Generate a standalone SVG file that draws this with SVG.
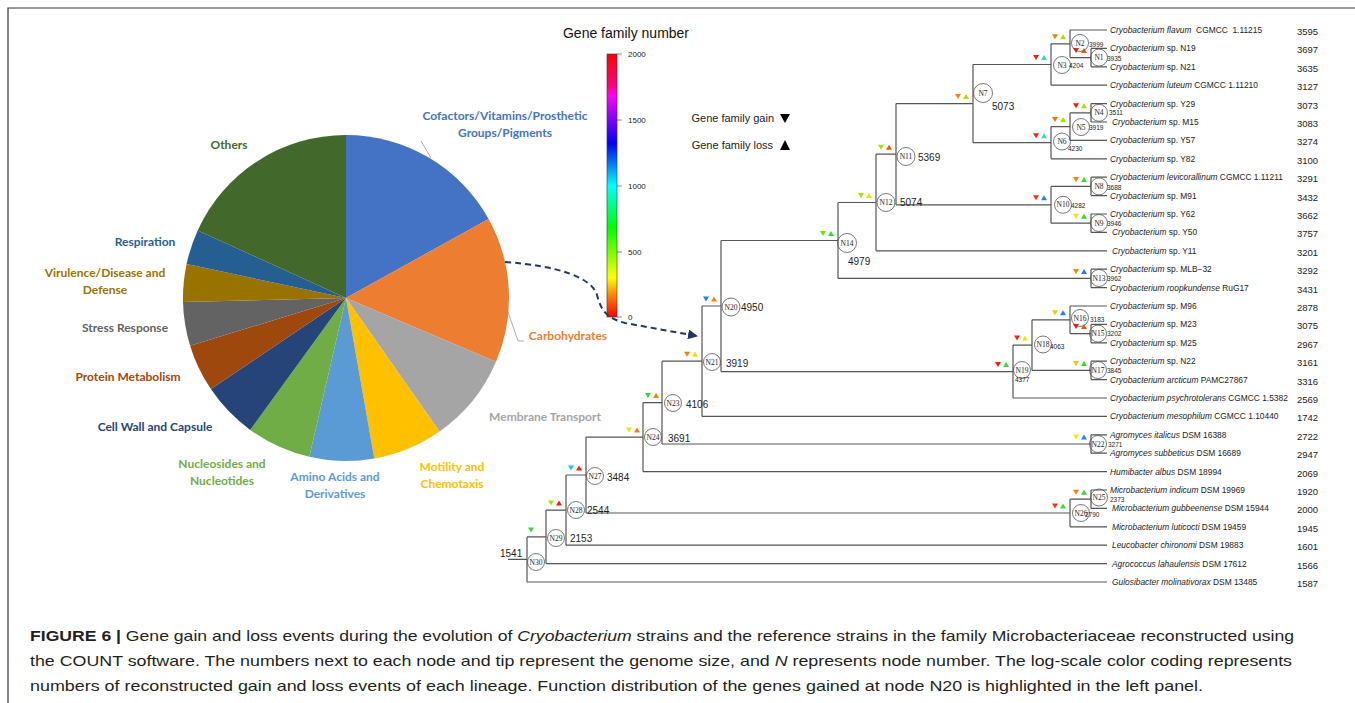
<svg xmlns="http://www.w3.org/2000/svg" xmlns:xlink="http://www.w3.org/1999/xlink" width="1355" height="703" viewBox="0 0 1355 703">
<style>
.br{stroke:#555;stroke-width:1.2;fill:none}
.nc{fill:none;stroke:#555;stroke-width:0.8}
.nl{font-family:"Liberation Serif",serif;font-size:7.5px;text-anchor:middle;fill:#222}
.sz{font-family:"Liberation Sans",Arial,sans-serif;font-size:6.5px;fill:#222}
.bz{font-family:"Liberation Sans",Arial,sans-serif;font-size:10px;fill:#222}
.tip{font-family:"Liberation Sans",Arial,sans-serif;font-size:8.4px;fill:#222}
.tn{font-family:"Liberation Sans",Arial,sans-serif;font-size:9.5px;fill:#222}
.pl{font-family:Lato,"Open Sans",sans-serif;font-weight:bold;font-size:12px;text-anchor:middle}
.cb{font-family:"Liberation Sans",Arial,sans-serif;font-size:8px;fill:#222}
.lg{font-family:"Liberation Sans",Arial,sans-serif;font-size:11px;fill:#222;text-anchor:end}
.cap{font-family:"Liberation Sans",Arial,sans-serif;font-size:15px;fill:#231F20}
.it{font-style:italic}
</style>
<defs>
<path id="td" d="M-3,-2.5 L3,-2.5 L0,2.5 Z"/>
<path id="tu" d="M-3,2.5 L3,2.5 L0,-2.5 Z"/>
<linearGradient id="cg" x1="0" y1="0" x2="0" y2="1">
<stop offset="0" stop-color="#FF0000"/>
<stop offset="0.12" stop-color="#FF0080"/>
<stop offset="0.16" stop-color="#FF00FF"/>
<stop offset="0.25" stop-color="#8000FF"/>
<stop offset="0.34" stop-color="#0000FF"/>
<stop offset="0.5" stop-color="#00FFFF"/>
<stop offset="0.66" stop-color="#00FF00"/>
<stop offset="0.76" stop-color="#80FF00"/>
<stop offset="0.85" stop-color="#FFFF00"/>
<stop offset="0.92" stop-color="#FF8000"/>
<stop offset="1" stop-color="#FF0000"/>
</linearGradient>
<marker id="ah" viewBox="0 0 10 10" refX="9" refY="5" markerWidth="5" markerHeight="5" orient="auto"><path d="M0,0 L10,5 L0,10 Z" fill="#1F3864"/></marker>
</defs>
<rect width="1355" height="703" fill="#fff"/>
<path d="M8 703 V8 H1355" stroke="#333" stroke-width="1.2" fill="none"/>

<!-- Pie chart -->
<g id="pie">
<path d="M346 298 L346 135 A163 163 0 0 1 488.6 219 Z" fill="#4472C4"/>
<path d="M346 298 L488.6 219 A163 163 0 0 1 496 361.7 Z" fill="#ED7D31"/>
<path d="M346 298 L496 361.7 A163 163 0 0 1 439.5 431.5 Z" fill="#A5A5A5"/>
<path d="M346 298 L439.5 431.5 A163 163 0 0 1 374.3 458.5 Z" fill="#FFC000"/>
<path d="M346 298 L374.3 458.5 A163 163 0 0 1 309.3 456.8 Z" fill="#5B9BD5"/>
<path d="M346 298 L309.3 456.8 A163 163 0 0 1 250.2 429.9 Z" fill="#70AD47"/>
<path d="M346 298 L250.2 429.9 A163 163 0 0 1 210.9 389.1 Z" fill="#264478"/>
<path d="M346 298 L210.9 389.1 A163 163 0 0 1 190.1 345.7 Z" fill="#9E480E"/>
<path d="M346 298 L190.1 345.7 A163 163 0 0 1 183 302 Z" fill="#636363"/>
<path d="M346 298 L183 302 A163 163 0 0 1 186.6 264.1 Z" fill="#997300"/>
<path d="M346 298 L186.6 264.1 A163 163 0 0 1 197.7 230.4 Z" fill="#255E91"/>
<path d="M346 298 L197.7 230.4 A163 163 0 0 1 346 135 Z" fill="#43682B"/>
<path d="M421 141 L431 158" stroke="#999" stroke-width="0.8" fill="none"/>
<path d="M508 312 L518 341 L524 341" stroke="#999" stroke-width="0.8" fill="none"/>
<text class="pl" x="229" y="149" fill="#43682B">Others</text>
<text class="pl" x="505" y="120" fill="#4472C4">Cofactors/Vitamins/Prosthetic</text>
<text class="pl" x="505" y="137" fill="#4472C4">Groups/Pigments</text>
<text class="pl" x="145" y="246" fill="#255E91">Respiration</text>
<text class="pl" x="105" y="277" fill="#997300">Virulence/Disease and</text>
<text class="pl" x="105" y="294" fill="#997300">Defense</text>
<text class="pl" x="125" y="332" fill="#636363">Stress Response</text>
<text class="pl" x="128" y="381" fill="#9E480E">Protein Metabolism</text>
<text class="pl" x="155" y="431" fill="#264478">Cell Wall and Capsule</text>
<text class="pl" x="222" y="468" fill="#70AD47">Nucleosides and</text>
<text class="pl" x="222" y="485" fill="#70AD47">Nucleotides</text>
<text class="pl" x="335" y="481" fill="#5B9BD5">Amino Acids and</text>
<text class="pl" x="335" y="498" fill="#5B9BD5">Derivatives</text>
<text class="pl" x="452" y="471" fill="#FFC000">Motility and</text>
<text class="pl" x="452" y="488" fill="#FFC000">Chemotaxis</text>
<text class="pl" x="545" y="421" fill="#A5A5A5">Membrane Transport</text>
<text class="pl" x="568" y="340" fill="#ED7D31">Carbohydrates</text>
</g>

<!-- Colour bar -->
<g id="colorbar">
<text x="626" y="38" font-family="Liberation Sans, Arial, sans-serif" font-size="14" text-anchor="middle" fill="#111">Gene family number</text>
<rect x="607" y="54" width="10" height="263" fill="url(#cg)" stroke="#333" stroke-width="0.6"/>
<path d="M617 54 H622 M617 120 H622 M617 186 H622 M617 252 H622 M617 317 H622" stroke="#333" stroke-width="0.6"/>
<text class="cb" x="628" y="57">2000</text>
<text class="cb" x="628" y="123">1500</text>
<text class="cb" x="628" y="189">1000</text>
<text class="cb" x="628" y="255">500</text>
<text class="cb" x="628" y="320">0</text>
</g>

<!-- Legend -->
<g id="legend">
<text class="lg" x="774" y="122">Gene family gain</text>
<polygon points="780,114 790,114 785,123" fill="#000"/>
<text class="lg" x="773" y="149">Gene family loss</text>
<polygon points="780,150 790,150 785,140" fill="#000"/>
</g>

<!-- Connectors -->
<g id="connectors">
<path class="br" d="M1070 30 H1107 M1091 48.4 H1107 M1091 66.8 H1107 M1051 85.2 H1107 M1091 103.6 H1107 M1091 122 H1107 M1070 140.4 H1107 M1051 158.8 H1107 M1091 177.2 H1107 M1091 195.6 H1107 M1091 214 H1107 M1091 232.4 H1107 M876 250.8 H1107 M1091 269.2 H1107 M1091 287.6 H1107 M1070 306 H1107 M1091 324.4 H1107 M1091 342.8 H1107 M1091 361.2 H1107 M1091 379.6 H1107 M1013 398 H1107 M702 416.4 H1107 M1091 434.8 H1107 M1091 453.2 H1107 M643 471.6 H1107 M1091 490 H1107 M1091 508.4 H1107 M1070 526.8 H1107 M566 545.2 H1107 M546 563.6 H1107 M527 582 H1107"/>
<path class="br" d="M1091 48.4 V66.8 M1070 30 V57.6 M1051 43.8 V85.2 M1091 103.6 V122 M1070 112.8 V140.4 M1051 126.6 V158.8 M973 64.5 V142.7 M1091 177.2 V195.6 M1091 214 V232.4 M1051 186.4 V223.2 M896 103.6 V204.8 M876 154.2 V250.8 M1091 269.2 V287.6 M838 202.5 V278.4 M1091 324.4 V342.8 M1070 306 V333.6 M1091 361.2 V379.6 M1032 319.8 V370.4 M1013 345.1 V398 M721 240.5 V371.6 M702 306 V416.4 M1091 434.8 V453.2 M662 361.2 V444 M643 402.6 V471.6 M1091 490 V508.4 M1070 499.2 V526.8 M586 437.1 V513 M566 475 V545.2 M546 510.1 V563.6 M527 536.9 V582"/>
<path class="br" d="M1070 57.6 H1091 M1051 43.8 H1070 M973 64.5 H1051 M1070 112.8 H1091 M1051 126.6 H1070 M973 142.7 H1051 M896 103.6 H973 M1051 186.4 H1091 M1051 223.2 H1091 M896 204.8 H1051 M876 154.2 H896 M838 202.5 H876 M838 278.4 H1091 M721 240.5 H838 M1070 333.6 H1091 M1032 319.8 H1070 M1032 370.4 H1091 M1013 345.1 H1032 M721 371.6 H1013 M702 306 H721 M662 361.2 H702 M662 444 H1091 M643 402.6 H662 M586 437.1 H643 M1070 499.2 H1091 M586 513 H1070 M566 475 H586 M546 510.1 H566 M527 536.9 H546 M508 559.4 H527"/>
<path d="M505 262 C560 266 592 278 597 295 C601 310 606 318 625 323 L697 336" fill="none" stroke="#1F3864" stroke-width="2" stroke-dasharray="6 4" marker-end="url(#ah)"/>
</g>

<!-- Internal nodes -->
<g id="N1"><circle class="nc" cx="1099" cy="57.6" r="8.5"/><text class="nl" x="1099" y="60.2">N1</text><text class="sz" x="1107" y="60.5">3935</text><use href="#td" x="1076" y="50.6" fill="#FF1A00"/><use href="#tu" x="1084" y="50.6" fill="#FF5500"/></g>
<g id="N2"><circle class="nc" cx="1080" cy="43" r="8.5"/><text class="nl" x="1080" y="45.6">N2</text><text class="sz" x="1089" y="46.5">3999</text><use href="#td" x="1055" y="36.8" fill="#FF8000"/><use href="#tu" x="1063" y="36.8" fill="#A8E000"/></g>
<g id="N3"><circle class="nc" cx="1062" cy="65" r="8.5"/><text class="nl" x="1062" y="67.6">N3</text><text class="sz" x="1069" y="67.5">4204</text><use href="#td" x="1036" y="57.5" fill="#FF1A00"/><use href="#tu" x="1044" y="57.5" fill="#33DDBB"/></g>
<g id="N4"><circle class="nc" cx="1099" cy="112.8" r="8.5"/><text class="nl" x="1099" y="115.4">N4</text><text class="sz" x="1109" y="115">3511</text><use href="#td" x="1076" y="105.8" fill="#FF1A00"/><use href="#tu" x="1084" y="105.8" fill="#A8E000"/></g>
<g id="N5"><circle class="nc" cx="1081" cy="127" r="8.5"/><text class="nl" x="1081" y="129.6">N5</text><text class="sz" x="1089" y="130">3919</text><use href="#td" x="1055" y="119.6" fill="#FF7000"/><use href="#tu" x="1063" y="119.6" fill="#A8E000"/></g>
<g id="N6"><circle class="nc" cx="1062" cy="141.5" r="8.5"/><text class="nl" x="1062" y="144.1">N6</text><text class="sz" x="1068" y="150.5">4230</text><use href="#td" x="1036" y="135.7" fill="#FF1A00"/><use href="#tu" x="1044" y="135.7" fill="#33DDBB"/></g>
<g id="N7"><circle class="nc" cx="983" cy="93" r="9.5"/><text class="nl" x="983" y="95.6">N7</text><text class="bz" x="992" y="110">5073</text><use href="#td" x="958" y="96.6" fill="#FF8000"/><use href="#tu" x="966" y="96.6" fill="#A8E000"/></g>
<g id="N8"><circle class="nc" cx="1099" cy="186.4" r="8.5"/><text class="nl" x="1099" y="189">N8</text><text class="sz" x="1107" y="189.5">3688</text><use href="#td" x="1076" y="179.4" fill="#FF8000"/><use href="#tu" x="1084" y="179.4" fill="#33DD33"/></g>
<g id="N9"><circle class="nc" cx="1099" cy="223" r="8.5"/><text class="nl" x="1099" y="225.6">N9</text><text class="sz" x="1107" y="225.5">3946</text><use href="#td" x="1076" y="216.2" fill="#E8E800"/><use href="#tu" x="1084" y="216.2" fill="#33DD33"/></g>
<g id="N10"><circle class="nc" cx="1063" cy="204.8" r="8.5"/><text class="nl" x="1063" y="207.4">N10</text><text class="sz" x="1071" y="207.5">4282</text><use href="#td" x="1036" y="197.8" fill="#FF3300"/><use href="#tu" x="1044" y="197.8" fill="#1E7FFF"/></g>
<g id="N11"><circle class="nc" cx="906" cy="156.5" r="9"/><text class="nl" x="906" y="159.1">N11</text><text class="bz" x="918" y="160.5">5369</text><use href="#td" x="881" y="147.2" fill="#A8E000"/><use href="#tu" x="889" y="147.2" fill="#FF5500"/></g>
<g id="N12"><circle class="nc" cx="886" cy="202.5" r="9"/><text class="nl" x="886" y="205.1">N12</text><text class="bz" x="900" y="205.5">5074</text><use href="#td" x="861" y="195.5" fill="#A8E000"/><use href="#tu" x="869" y="195.5" fill="#E8E800"/></g>
<g id="N13"><circle class="nc" cx="1099" cy="278" r="8.5"/><text class="nl" x="1099" y="280.6">N13</text><text class="sz" x="1107" y="281">3962</text><use href="#td" x="1076" y="271.4" fill="#FF8000"/><use href="#tu" x="1084" y="271.4" fill="#1E7FFF"/></g>
<g id="N14"><circle class="nc" cx="847" cy="243" r="9.5"/><text class="nl" x="847" y="245.6">N14</text><text class="bz" x="848" y="265">4979</text><use href="#td" x="823" y="233.5" fill="#66EE00"/><use href="#tu" x="831" y="233.5" fill="#33DD33"/></g>
<g id="N15"><circle class="nc" cx="1098" cy="333.6" r="8.5"/><text class="nl" x="1098" y="336.2">N15</text><text class="sz" x="1107" y="336">3202</text><use href="#td" x="1076" y="326.6" fill="#FF1A00"/><use href="#tu" x="1084" y="326.6" fill="#FF5500"/></g>
<g id="N16"><circle class="nc" cx="1080" cy="318" r="8.5"/><text class="nl" x="1080" y="320.6">N16</text><text class="sz" x="1090" y="322">3183</text><use href="#td" x="1055" y="312.8" fill="#E8D000"/><use href="#tu" x="1063" y="312.8" fill="#1E7FFF"/></g>
<g id="N17"><circle class="nc" cx="1098" cy="370" r="8.5"/><text class="nl" x="1098" y="372.6">N17</text><text class="sz" x="1107" y="373">3845</text><use href="#td" x="1076" y="363.4" fill="#FFC000"/><use href="#tu" x="1084" y="363.4" fill="#33DD33"/></g>
<g id="N18"><circle class="nc" cx="1043" cy="344.5" r="8.5"/><text class="nl" x="1043" y="347.1">N18</text><text class="sz" x="1050" y="348.5">4063</text><use href="#td" x="1017" y="338.1" fill="#FF1A00"/><use href="#tu" x="1025" y="338.1" fill="#E0F000"/></g>
<g id="N19"><circle class="nc" cx="1022" cy="370" r="8.5"/><text class="nl" x="1022" y="372.6">N19</text><text class="sz" x="1015" y="382">4377</text><use href="#td" x="998" y="364.6" fill="#FF1A00"/><use href="#tu" x="1006" y="364.6" fill="#33DD33"/></g>
<g id="N20"><circle class="nc" cx="731" cy="307" r="9"/><text class="nl" x="731" y="309.6">N20</text><text class="bz" x="741" y="311">4950</text><use href="#td" x="706" y="299" fill="#1E7FFF"/><use href="#tu" x="714" y="299" fill="#FF8000"/></g>
<g id="N21"><circle class="nc" cx="712" cy="362" r="8.5"/><text class="nl" x="712" y="364.6">N21</text><text class="bz" x="726" y="366.5">3919</text><use href="#td" x="687" y="354.2" fill="#FF8000"/><use href="#tu" x="695" y="354.2" fill="#F0E000"/></g>
<g id="N22"><circle class="nc" cx="1098" cy="444" r="8.5"/><text class="nl" x="1098" y="446.6">N22</text><text class="sz" x="1108" y="446.5">3271</text><use href="#td" x="1076" y="437" fill="#E8F000"/><use href="#tu" x="1084" y="437" fill="#1E7FFF"/></g>
<g id="N23"><circle class="nc" cx="673" cy="403" r="8.5"/><text class="nl" x="673" y="405.6">N23</text><text class="bz" x="686" y="407.5">4106</text><use href="#td" x="648" y="395.6" fill="#33DD33"/><use href="#tu" x="656" y="395.6" fill="#FF8000"/></g>
<g id="N24"><circle class="nc" cx="653" cy="437" r="8.5"/><text class="nl" x="653" y="439.6">N24</text><text class="bz" x="668" y="441.5">3691</text><use href="#td" x="629" y="430.1" fill="#E8E800"/><use href="#tu" x="637" y="430.1" fill="#FF8000"/></g>
<g id="N25"><circle class="nc" cx="1099" cy="497.5" r="8.5"/><text class="nl" x="1099" y="500.1">N25</text><text class="sz" x="1110" y="502">2373</text><use href="#td" x="1076" y="492.2" fill="#FF8000"/><use href="#tu" x="1084" y="492.2" fill="#33DD33"/></g>
<g id="N26"><circle class="nc" cx="1081" cy="513" r="8.5"/><text class="nl" x="1081" y="515.6">N26</text><text class="sz" x="1085" y="516.5">2790</text><use href="#td" x="1055" y="506" fill="#FF3300"/><use href="#tu" x="1063" y="506" fill="#33DD33"/></g>
<g id="N27"><circle class="nc" cx="595" cy="476" r="8.5"/><text class="nl" x="595" y="478.6">N27</text><text class="bz" x="607" y="480.5">3484</text><use href="#td" x="571" y="468" fill="#00CCEE"/><use href="#tu" x="579" y="468" fill="#FF1A00"/></g>
<g id="N28"><circle class="nc" cx="576" cy="510" r="8.5"/><text class="nl" x="576" y="512.6">N28</text><text class="bz" x="587" y="514">2544</text><use href="#td" x="551" y="503.1" fill="#A8E000"/><use href="#tu" x="559" y="503.1" fill="#FF1A00"/></g>
<g id="N29"><circle class="nc" cx="556" cy="538" r="8.5"/><text class="nl" x="556" y="540.6">N29</text><text class="bz" x="570" y="542">2153</text><use href="#td" x="531" y="529.9" fill="#33DD33"/></g>
<g id="N30"><circle class="nc" cx="536" cy="562" r="8.5"/><text class="nl" x="536" y="564.6">N30</text><text class="bz" x="500" y="556.5">1541</text></g>

<!-- Tips -->
<g id="tips">
<text class="tip" x="1110" y="33" xml:space="preserve"><tspan class="it">Cryobacterium flavum</tspan>  CGMCC  1.11215</text>
<text class="tip" x="1110" y="51.4"><tspan class="it">Cryobacterium</tspan> sp. N19</text>
<text class="tip" x="1110" y="69.8"><tspan class="it">Cryobacterium</tspan> sp. N21</text>
<text class="tip" x="1110" y="88.2"><tspan class="it">Cryobacterium luteum</tspan> CGMCC 1.11210</text>
<text class="tip" x="1110" y="106.6"><tspan class="it">Cryobacterium</tspan> sp. Y29</text>
<text class="tip" x="1112" y="125"><tspan class="it">Cryobacterium</tspan> sp. M15</text>
<text class="tip" x="1110" y="143.4"><tspan class="it">Cryobacterium</tspan> sp. Y57</text>
<text class="tip" x="1110" y="161.8"><tspan class="it">Cryobacterium</tspan> sp. Y82</text>
<text class="tip" x="1110" y="180.2"><tspan class="it">Cryobacterium levicorallinum</tspan> CGMCC 1.11211</text>
<text class="tip" x="1110" y="198.6"><tspan class="it">Cryobacterium</tspan> sp. M91</text>
<text class="tip" x="1110" y="217"><tspan class="it">Cryobacterium</tspan> sp. Y62</text>
<text class="tip" x="1112" y="235.4"><tspan class="it">Cryobacterium</tspan> sp. Y50</text>
<text class="tip" x="1112" y="253.8"><tspan class="it">Cryobacterium</tspan> sp. Y11</text>
<text class="tip" x="1110" y="272.2"><tspan class="it">Cryobacterium</tspan> sp. MLB−32</text>
<text class="tip" x="1110" y="290.6"><tspan class="it">Cryobacterium roopkundense</tspan> RuG17</text>
<text class="tip" x="1110" y="309"><tspan class="it">Cryobacterium</tspan> sp. M96</text>
<text class="tip" x="1110" y="327.4"><tspan class="it">Cryobacterium</tspan> sp. M23</text>
<text class="tip" x="1110" y="345.8"><tspan class="it">Cryobacterium</tspan> sp. M25</text>
<text class="tip" x="1110" y="364.2"><tspan class="it">Cryobacterium</tspan> sp. N22</text>
<text class="tip" x="1110" y="382.6"><tspan class="it">Cryobacterium arcticum</tspan> PAMC27867</text>
<text class="tip" x="1110" y="401"><tspan class="it">Cryobacterium psychrotolerans</tspan> CGMCC 1.5382</text>
<text class="tip" x="1110" y="419.4"><tspan class="it">Cryobacterium mesophilum</tspan> CGMCC 1.10440</text>
<text class="tip" x="1110" y="437.8"><tspan class="it">Agromyces italicus</tspan> DSM 16388</text>
<text class="tip" x="1110" y="456.2"><tspan class="it">Agromyces subbeticus</tspan> DSM 16689</text>
<text class="tip" x="1110" y="474.6"><tspan class="it">Humibacter albus</tspan> DSM 18994</text>
<text class="tip" x="1110" y="493"><tspan class="it">Microbacterium indicum</tspan> DSM 19969</text>
<text class="tip" x="1112" y="511.4"><tspan class="it">Microbacterium gubbeenense</tspan> DSM 15944</text>
<text class="tip" x="1112" y="529.8"><tspan class="it">Microbacterium luticocti</tspan> DSM 19459</text>
<text class="tip" x="1112" y="548.2"><tspan class="it">Leucobacter chironomi</tspan> DSM 19883</text>
<text class="tip" x="1112" y="566.6"><tspan class="it">Agrococcus lahaulensis</tspan> DSM 17612</text>
<text class="tip" x="1112" y="585"><tspan class="it">Gulosibacter molinativorax</tspan> DSM 13485</text>
</g>
<g id="tip-sizes">
<text class="tn" x="1297" y="35">3595</text>
<text class="tn" x="1297" y="53.4">3697</text>
<text class="tn" x="1297" y="71.8">3635</text>
<text class="tn" x="1297" y="90.2">3127</text>
<text class="tn" x="1297" y="108.6">3073</text>
<text class="tn" x="1297" y="127">3083</text>
<text class="tn" x="1297" y="145.4">3274</text>
<text class="tn" x="1297" y="163.8">3100</text>
<text class="tn" x="1297" y="182.2">3291</text>
<text class="tn" x="1297" y="200.6">3432</text>
<text class="tn" x="1297" y="219">3662</text>
<text class="tn" x="1297" y="237.4">3757</text>
<text class="tn" x="1297" y="255.8">3201</text>
<text class="tn" x="1297" y="274.2">3292</text>
<text class="tn" x="1297" y="292.6">3431</text>
<text class="tn" x="1297" y="311">2878</text>
<text class="tn" x="1297" y="329.4">3075</text>
<text class="tn" x="1297" y="347.8">2967</text>
<text class="tn" x="1297" y="366.2">3161</text>
<text class="tn" x="1297" y="384.6">3316</text>
<text class="tn" x="1297" y="403">2569</text>
<text class="tn" x="1297" y="421.4">1742</text>
<text class="tn" x="1297" y="439.8">2722</text>
<text class="tn" x="1297" y="458.2">2947</text>
<text class="tn" x="1297" y="476.6">2069</text>
<text class="tn" x="1297" y="495">1920</text>
<text class="tn" x="1297" y="513.4">2000</text>
<text class="tn" x="1297" y="531.8">1945</text>
<text class="tn" x="1297" y="550.2">1601</text>
<text class="tn" x="1297" y="568.6">1566</text>
<text class="tn" x="1297" y="587">1587</text>
</g>

<!-- Caption -->
<g id="caption">
<text class="cap" x="30" y="641" textLength="1264" lengthAdjust="spacingAndGlyphs"><tspan font-weight="bold">FIGURE 6 | </tspan>Gene gain and loss events during the evolution of <tspan class="it">Cryobacterium</tspan> strains and the reference strains in the family Microbacteriaceae reconstructed using</text>
<text class="cap" x="30" y="666" textLength="1262" lengthAdjust="spacingAndGlyphs">the COUNT software. The numbers next to each node and tip represent the genome size, and <tspan class="it">N</tspan> represents node number. The log-scale color coding represents</text>
<text class="cap" x="30" y="691" textLength="1173" lengthAdjust="spacingAndGlyphs">numbers of reconstructed gain and loss events of each lineage. Function distribution of the genes gained at node N20 is highlighted in the left panel.</text>
</g>
</svg>
